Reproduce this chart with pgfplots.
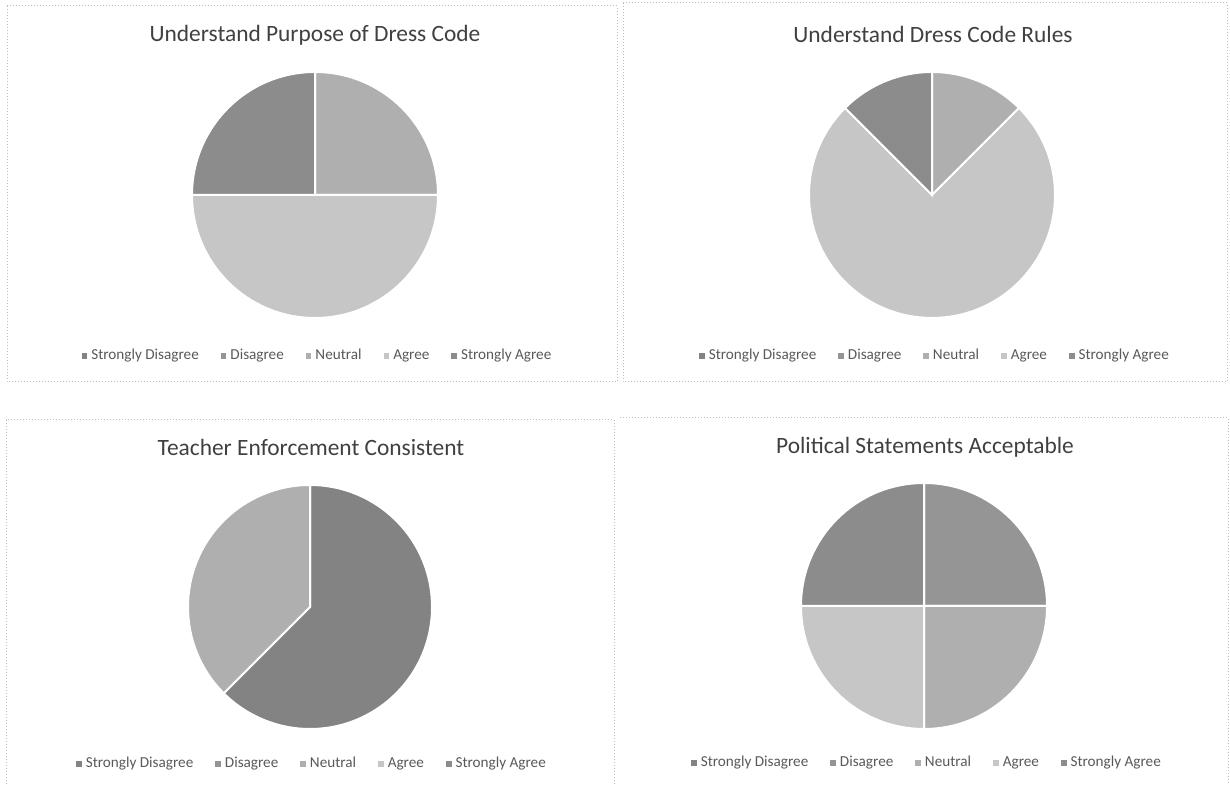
\documentclass[border=0pt]{standalone}
\usepackage{fontspec}
\setmainfont{Carlito}
\usepackage{pgfplots}
\usepackage{pgfplotstable}
\pgfplotsset{compat=1.18}

% slice colours: Strongly Disagree .. Strongly Agree
\definecolor{c0}{HTML}{838383}
\definecolor{c1}{HTML}{959595}
\definecolor{c2}{HTML}{AFAFAF}
\definecolor{c3}{HTML}{C6C6C6}
\definecolor{c4}{HTML}{8C8C8C}
\definecolor{ttl}{HTML}{404040}
\definecolor{legtxt}{HTML}{595959}
\definecolor{frame}{HTML}{BDBDBD}

\pgfplotstableread{
cat val
SD 0
D 0
N 1
A 2
SA 1
}\purpose
\pgfplotstableread{
cat val
SD 0
D 0
N 1
A 6
SA 1
}\rules
\pgfplotstableread{
cat val
SD 5
D 0
N 3
A 0
SA 0
}\enforce
\pgfplotstableread{
cat val
SD 0
D 1
N 1
A 1
SA 1
}\political

% #1 table, #2 cx, #3 cy, #4 radius (axis units, 1 unit = 0.5pt)
\newcommand{\drawpie}[4]{%
  \def\total{0}%
  \pgfplotsforeachungrouped \i in {0,...,4}{%
    \pgfplotstablegetelem{\i}{val}\of{#1}%
    \pgfmathsetmacro\total{\total+\pgfplotsretval}%
  }%
  \def\cum{0}%
  \pgfplotsforeachungrouped \i in {0,...,4}{%
    \pgfplotstablegetelem{\i}{val}\of{#1}%
    \let\v\pgfplotsretval
    \pgfmathparse{\v>0 ? 1 : 0}%
    \ifdim\pgfmathresult pt>0pt
      \pgfmathsetmacro\aS{90-360*\cum/\total}%
      \pgfmathsetmacro\aE{90-360*(\cum+\v)/\total}%
      \pgfmathsetmacro\xS{#2+#4*cos(\aS)}%
      \pgfmathsetmacro\yS{#3+#4*sin(\aS)}%
      \pgfmathsetmacro\rr{#4*0.5}%
      \edef\cmd{\noexpand\fill[fill=c\i, draw=white, line width=1pt]
        (axis cs:#2,#3) -- (axis cs:\xS,\yS)
        arc[start angle=\aS, end angle=\aE, radius=\rr pt] -- cycle;}%
      \cmd
    \fi
    \pgfmathsetmacro\cum{\cum+\v}%
  }%
}

\pgfplotsset{
  panel/.style={
    at={(0,0)}, anchor=south west, scale only axis,
    width=615pt, height=392pt,
    xmin=0, xmax=1230, ymin=0, ymax=784,
    hide axis, clip=false,
    legend columns=5,
    legend style={draw=none, fill=none, anchor=center,
      font=\fontsize{7.6}{9}\selectfont, text=legtxt,
      /tikz/every even column/.append style={column sep=9pt}},
    legend image code/.code={\fill[##1] (0pt,-1.4pt) rectangle (2.8pt,1.4pt);},
  },
}
\tikzset{ttlfont/.style={font=\fontsize{11.7}{13}\selectfont, text=ttl}}

\newcommand{\legendentries}{%
  \addlegendimage{fill=c0, draw=none}\addlegendentry{Strongly Disagree}
  \addlegendimage{fill=c1, draw=none}\addlegendentry{Disagree}
  \addlegendimage{fill=c2, draw=none}\addlegendentry{Neutral}
  \addlegendimage{fill=c3, draw=none}\addlegendentry{Agree}
  \addlegendimage{fill=c4, draw=none}\addlegendentry{Strongly Agree}
}

\begin{document}
\begin{tikzpicture}

% top left
\begin{axis}[panel, legend style={at={(318.5/1230,428/784)}}]
  \legendentries
  \path (axis cs:0,0) rectangle (axis cs:1230,784);
  \draw[frame, densely dotted, line width=0.5pt] (axis cs:7,778) rectangle (axis cs:617,402);
  \draw[frame, densely dotted, line width=0.5pt] (axis cs:623,781) rectangle (axis cs:1227,402);
  \draw[frame, densely dotted, line width=0.5pt] (axis cs:6,0) -- (axis cs:6,364) -- (axis cs:614,364) -- (axis cs:614,0);
  \draw[frame, densely dotted, line width=0.5pt] (axis cs:620,366) -- (axis cs:1228,366) -- (axis cs:1228,0);
  \node[ttlfont] at (axis cs:315,749) {Understand Purpose of Dress Code};
  \drawpie{\purpose}{315}{589}{123}
\end{axis}

% top right
\begin{axis}[panel, legend style={at={(936/1230,428/784)}}]
  \legendentries
  \node[ttlfont] at (axis cs:933,750) {Understand Dress Code Rules};
  \drawpie{\rules}{932}{589}{123}
\end{axis}

% bottom left
\begin{axis}[panel, legend style={at={(313/1230,20/784)}}]
  \legendentries
  \node[ttlfont] at (axis cs:311,337) {Teacher Enforcement Consistent};
  \drawpie{\enforce}{310}{177}{122}
\end{axis}

% bottom right
\begin{axis}[panel, legend style={at={(928/1230,21/784)}}]
  \legendentries
  \node[ttlfont] at (axis cs:925,337) {Political Statements Acceptable};
  \drawpie{\political}{924}{178}{123}
\end{axis}

\end{tikzpicture}
\end{document}
